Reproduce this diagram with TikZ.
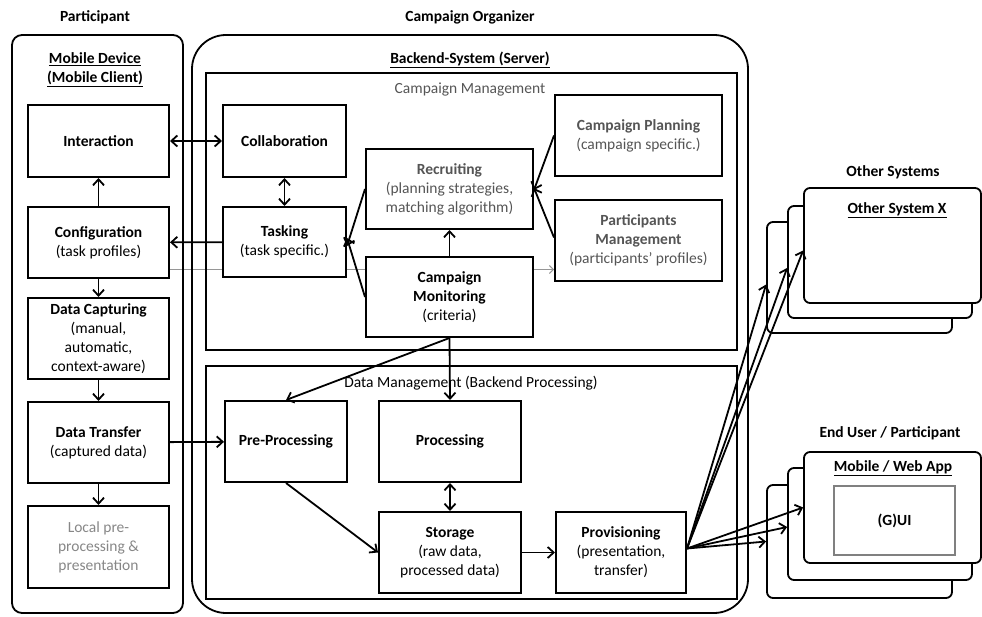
\documentclass[tikz,border=0pt]{standalone}
\usepackage{fontspec}
\setmainfont{Carlito}
\usetikzlibrary{arrows.meta,positioning,backgrounds}
\definecolor{textgray}{RGB}{85,85,85}
\definecolor{fadegray}{RGB}{135,135,135}
\definecolor{linegray}{RGB}{150,150,150}

\begin{document}
\begin{tikzpicture}[
    x=1pt, y=-1pt,
    font=\fontsize{15.5}{19}\selectfont,
    block/.style={draw=black, rectangle, fill=white, line width=2pt, align=center, inner sep=2pt},
    pbox/.style={block, minimum width=141pt},
    lane/.style={draw=black, rectangle, line width=1.8pt},
    stack/.style={draw=black, rectangle, rounded corners=6pt, fill=white, line width=1.8pt},
    head/.style={font=\fontsize{15.5}{19}\selectfont\bfseries, align=center},
    arrow/.style={-{Straight Barb[length=6pt,width=11pt]}, line width=1.8pt},
    twoway/.style={{Straight Barb[length=6pt,width=11pt]}-{Straight Barb[length=6pt,width=11pt]}, line width=1.8pt}
]
    \useasboundingbox (0,0) rectangle (982,617);

    \node[lane, rounded corners=10pt, minimum width=171pt, minimum height=578pt] (partlane) at (97.5,324) {};
    \node[lane, rounded corners=34pt, minimum width=556pt, minimum height=578pt] (orglane) at (470,324) {};
    \node[lane, minimum width=531pt, minimum height=277pt] (campmgmt) at (471.5,211.5) {};
    \node[lane, minimum width=531pt, minimum height=233pt] (datamgmt) at (471.5,482.5) {};

    \node[head] (parttitle) at (95,17) {Participant};
    \node[head] (orgtitle) at (470,17) {Campaign Organizer};
    \node[head] (mobiletitle) at (95,70) {\underline{Mobile Device}\\\underline{(Mobile Client)}};
    \node[head] (backendtitle) at (470,60) {\underline{Backend-System (Server)}};
    \node[text=textgray] (cmtitle) at (470,90) {Campaign Management};
    \node (dmtitle) at (471,383) {Data Management (Backend Processing)};

    \node[pbox, minimum height=72pt] (interaction) at (98.5,141) {\textbf{Interaction}};
    \node[pbox, minimum height=71pt] (config) at (98.5,242.5) {\textbf{Configuration}\\(task profiles)};
    \node[pbox, minimum height=81pt] (capture) at (98.5,338.5) {\textbf{Data Capturing}\\(manual,\\automatic,\\context-aware)};
    \node[pbox, minimum height=81pt] (transfer) at (98.5,442.5) {\textbf{Data Transfer}\\(captured data)};
    \node[pbox, minimum height=82pt, text=fadegray] (localpp) at (98.5,547) {Local pre-\\processing \&\\presentation};

    \node[block, minimum width=123pt, minimum height=72pt] (collab) at (284.5,141) {\textbf{Collaboration}};
    \node[block, minimum width=123pt, minimum height=70pt] (tasking) at (284.5,242) {\textbf{Tasking}\\(task specific.)};
    \node[block, minimum width=167pt, minimum height=80pt, text=textgray] (recruit) at (449.5,189) {\textbf{Recruiting}\\(planning strategies,\\matching algorithm)};
    \node[block, minimum width=167pt, minimum height=80pt] (monitor) at (449.5,297) {\textbf{Campaign}\\\textbf{Monitoring}\\(criteria)};
    \node[block, minimum width=167pt, minimum height=81pt, text=textgray] (planning) at (638.5,135.5) {\textbf{Campaign Planning}\\(campaign specific.)};
    \node[block, minimum width=167pt, minimum height=81pt, text=textgray] (partmgmt) at (638.5,240.5) {\textbf{Participants}\\\textbf{Management}\\(participants’ profiles)};

    \node[block, minimum width=122pt, minimum height=81pt] (preproc) at (286,441.5) {\textbf{Pre-Processing}};
    \node[block, minimum width=142pt, minimum height=81pt] (proc) at (450,441.5) {\textbf{Processing}};
    \node[block, minimum width=142pt, minimum height=81pt] (storage) at (450,552.5) {\textbf{Storage}\\(raw data,\\processed data)};
    \node[block, minimum width=130pt, minimum height=81pt] (prov) at (621,552.5) {\textbf{Provisioning}\\(presentation,\\transfer)};

    \node[stack, minimum width=185pt, minimum height=111pt] (osback) at (859.5,277.5) {};
    \node[stack, minimum width=184pt, minimum height=112pt] (osmid) at (880,262) {};
    \node[stack, minimum width=177pt, minimum height=115pt] (osfront) at (892.5,245.5) {};
    \node[head] (ostitle) at (893,172) {Other Systems};
    \node[head] (osname) at (897,210) {\underline{Other System X}};

    \node[stack, minimum width=185pt, minimum height=113pt] (euback) at (859.5,541.5) {};
    \node[stack, minimum width=184pt, minimum height=112pt] (eumid) at (880,524) {};
    \node[stack, minimum width=177pt, minimum height=111pt] (eufront) at (892.5,507.5) {};
    \node[head] (eutitle) at (890,433) {End User / Participant};
    \node[head] (euname) at (893,468) {\underline{Mobile / Web App}};
    \node[block, draw=gray, line width=2.4pt, minimum width=121pt, minimum height=69pt] (gui) at (894.5,520.5) {\textbf{(G)UI}};

    \begin{scope}[on background layer]
        \draw[-{Straight Barb[length=4pt,width=8pt]}, linegray, line width=0.9pt] ([yshift=-27pt]config.east) -- ([yshift=-27pt]config.east -| partmgmt.west);
    \end{scope}

    \draw[twoway] (interaction) -- (collab);
    \draw[arrow] (config) -- (interaction);
    \draw[arrow] (config) -- (capture);
    \draw[arrow] (capture) -- (transfer);
    \draw[arrow] (transfer) -- (localpp);
    \draw[arrow] (transfer) -- (preproc);
    \draw[twoway] (collab) -- (tasking);
    \draw[arrow] (tasking) -- (config);
    \draw[arrow] (recruit.west) -- ([yshift=-4pt]tasking.east);
    \draw[arrow] (monitor.west) -- ([yshift=4pt]tasking.east);
    \draw[arrow] (monitor) -- (recruit);
    \draw[arrow] (planning.west) -- ([yshift=-1pt]recruit.east);
    \draw[arrow] ([yshift=3pt]partmgmt.west) -- ([yshift=1pt]recruit.east);
    \draw[arrow] (monitor.south) -- (preproc.north);
    \draw[arrow] (monitor.south) -- (proc.north);
    \draw[twoway] (proc) -- (storage);
    \draw[arrow] (preproc.south) -- (storage.west);
    \draw[arrow] (storage) -- (prov);

    \draw[arrow] ([yshift=4pt]prov.east) -- ([yshift=-7pt]osback.west);
    \draw[arrow] ([yshift=4pt]prov.east) -- ([yshift=-6pt]osmid.west);
    \draw[arrow] ([yshift=4pt]prov.east) -- ([yshift=-5pt]osfront.west);
    \draw[arrow] ([yshift=4pt]prov.east) -- (euback.west);
    \draw[arrow] ([yshift=4pt]prov.east) -- ([yshift=-3pt]eumid.west);
    \draw[arrow] ([yshift=4pt]prov.east) -- (eufront.west);
\end{tikzpicture}
\end{document}
